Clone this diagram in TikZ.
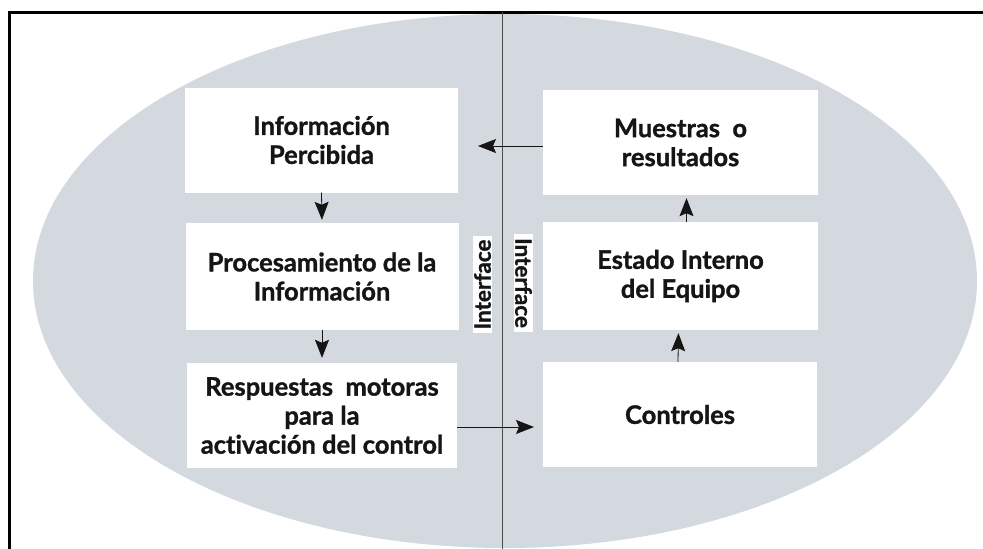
\documentclass[tikz,border=0pt]{standalone}
\usepackage{fontspec}
\setmainfont{Lato}[Ligatures=NoCommon,BoldFeatures={FakeBold=1.2}]
\usepackage{xcolor}
\usepackage{tikz}
\usetikzlibrary{arrows.meta,positioning,calc}
\definecolor{halftone}{HTML}{D3D9DF}
\definecolor{inkc}{HTML}{151515}

\begin{document}
\begin{tikzpicture}[x=1pt,y=-1pt,
  box/.style={fill=white,draw=none,minimum width=273pt,minimum height=105pt,
              align=center,font=\fontsize{25.5}{29}\selectfont\bfseries,text=inkc},
  iface/.style={fill=white,draw=none,inner xsep=4pt,inner ysep=1.5pt,
                font=\fontsize{22.5}{24}\selectfont\bfseries,text=inkc},
  flow/.style={-{Stealth[length=18pt,width=14pt,inset=3pt]},line width=0.8pt,draw=inkc},
  frame/.style={line width=3pt,draw=black}
]
\useasboundingbox (0,0) rectangle (983,549);
\begin{scope}
\clip (9,12) rectangle (983,549);
\fill[halftone] (505,281) ellipse [x radius=472,y radius=267];
\end{scope}

% page frame and interface line
\draw[frame] (983,12) -- (9,12) -- (9,549);
\coordinate (ltop) at (502,12);
\coordinate (lbot) at (502,549);
\draw[line width=0.9pt,draw=black!70] (ltop) -- (lbot);

% operator side
\node[box] (info) at (321.5,140) {Información\\Percibida};
\node[box,minimum height=107pt] (proc) at (322,276.5) {Procesamiento de la\\Información};
\node[box,minimum width=270pt] (resp) at (322,415.5) {Respuestas\ \ motoras\\para la\\activación del control};

% machine side
\node[box,minimum width=275pt] (mues) at (680.5,142.5) {Muestras\ \ o\\resultados};
\node[box,minimum width=275pt,minimum height=108pt] (estado) at (680.5,276) {Estado Interno\\del Equipo};
\node[box,minimum width=274pt] (ctrl) at (680,414.5) {Controles};

\node[iface,rotate=90] (ifl) at (482.5,284.5) {Interface};
\node[iface,rotate=-90] (ifr) at (523.5,283) {Interface};

% free ends of the crossing arrows
\coordinate (pend) at (478,146);
\coordinate (cend) at (534,427);

\draw[flow] (mues.west |- pend) -- (pend);
\draw[flow] (resp.east |- cend) -- (cend);
\draw[flow,shorten >=3pt] (info.south) -- (proc.north);
\draw[flow,shorten >=5pt] (proc.south) -- (resp.north);
\draw[flow,shorten >=3pt] ([xshift=6pt]estado.north) -- ([xshift=6pt]mues.south);
\draw[flow,shorten >=3pt] ([xshift=-2pt]ctrl.north) -- ([xshift=-2pt]estado.south);
\end{tikzpicture}
\end{document}
